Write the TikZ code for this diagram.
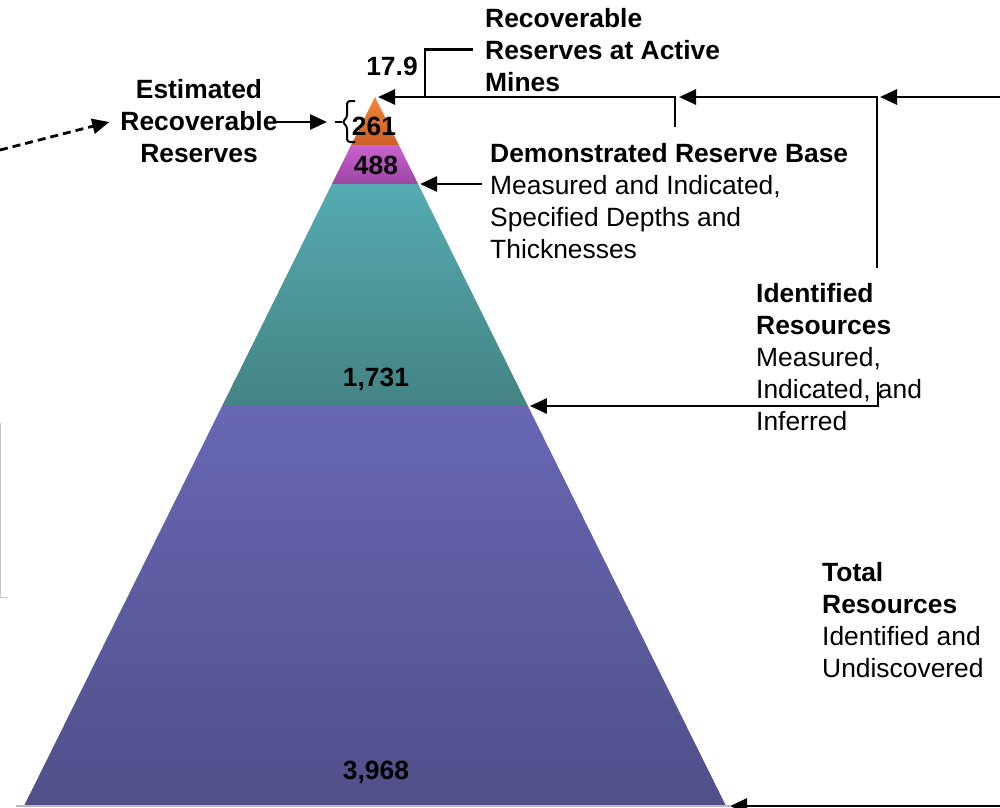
\documentclass[tikz,border=0pt]{standalone}
\usepackage{fontspec}
\setmainfont{Liberation Sans}
\usepackage{tikz}
\usetikzlibrary{arrows.meta, positioning, calc}
\usepackage{xcolor}

\definecolor{orangeTop}{HTML}{F28432}
\definecolor{orangeBot}{HTML}{CA5F28}
\definecolor{plumTop}{HTML}{CA62D0}
\definecolor{plumBot}{HTML}{9A46A4}
\definecolor{tealTop}{HTML}{55AAB2}
\definecolor{tealBot}{HTML}{448383}
\definecolor{blueTop}{HTML}{6867B4}
\definecolor{blueBot}{HTML}{504F89}

\begin{document}
\begin{tikzpicture}[
        x=1pt, y=-1pt,
        note/.style={font=\fontsize{26.4}{31.8}\selectfont, align=left, inner sep=0pt, anchor=base west},
        val/.style={font=\fontsize{26.4}{31.8}\selectfont\bfseries, inner sep=0pt, anchor=base},
        arrow/.style={-{Triangle[length=17pt, width=15pt]}, line width=2.8pt},
        link/.style={line width=2.6pt},
        dasharrow/.style={arrow, dash pattern=on 8pt off 5pt},
        bracestyle/.style={line width=2pt}
    ]
    \useasboundingbox (0,0) rectangle (1000,807);
    % pyramid
    \coordinate (apex) at (375,97);
    \shade[top color=orangeTop, bottom color=orangeBot] (apex) -- (398.8,145) -- (351.2,145) -- cycle;
    \shade[top color=plumTop, bottom color=plumBot] (351.2,145) -- (398.8,145) -- (418.1,184) -- (331.9,184) -- cycle;
    \shade[top color=tealTop, bottom color=tealBot] (331.9,184) -- (418.1,184) -- (527.9,406) -- (222.1,406) -- cycle;
    \shade[top color=blueTop, bottom color=blueBot] (222.1,406) -- (527.9,406) -- (726,806) -- (24,806) -- cycle;
    \draw[gray!55, line width=2pt] (16,806) -- (730,806);
    \draw[gray!45, line width=1pt] (0.5,423) -- (0.5,597) -- (8,597);
    % values
    \node[val] (v179) at (392,75) {17.9};
    \node[val] (v261) at (374,135) {261};
    \node[val] (v488) at (376,174) {488};
    \node[val] (v1731) at (376,386) {1,731};
    \node[val] (v3968) at (376,779) {3,968};
    % labels (base = last line)
    \node[note, font=\fontsize{26.4}{31.8}\selectfont\bfseries] (mines) at (485,91) {Recoverable\\Reserves at Active\\Mines};
    \node[note, font=\fontsize{26.4}{31.8}\selectfont\bfseries, align=center, anchor=base] (est) at (199,162) {Estimated\\Recoverable\\Reserves};
    \node[note] (drb) at (490,258) {\textbf{Demonstrated Reserve Base}\\Measured and Indicated,\\Specified Depths and\\Thicknesses};
    \node[note] (idres) at (756,430) {\textbf{Identified}\\\textbf{Resources}\\Measured,\\Indicated, and\\Inferred};
    \node[note] (totres) at (822,677) {\textbf{Total}\\\textbf{Resources}\\Identified and\\Undiscovered};
    % connector points
    \coordinate (jA) at (425,97);
    \coordinate (drbtop) at (675,127);
    \coordinate (drbS) at (482,184);
    \coordinate (drbE) at (418.1,184);
    \coordinate (idtop) at (877,268);
    \coordinate (idtick) at (878,382);
    \coordinate (idE) at (527.9,406);
    \coordinate (rightA) at (1000,97);
    \coordinate (rightB) at (1000,806);
    \coordinate (baseE) at (726,806);
    \coordinate (brc) at (335,122);
    \coordinate (dashS) at (0,150);
    % connectors
    \draw[link] ([xshift=-12pt]mines.west) -| (jA);
    \draw[arrow, shorten >=3pt] (drbtop) |- (apex);
    \draw[arrow, shorten >=4pt] (idtop) |- (drbtop |- apex);
    \draw[arrow, shorten >=3pt] (rightA) -- (idtop |- apex);
    \draw[arrow, shorten >=2pt] (drbS) -- (drbE);
    \draw[arrow, shorten >=2pt] (idtick) |- (idE);
    \draw[arrow, shorten >=4pt] (rightB) -- (baseE);
    \draw[arrow, shorten >=8pt] ([xshift=-4pt]est.east |- brc) -- (brc);
    \draw[dasharrow] (dashS) -- ([xshift=-11pt]est.west |- brc);
    % brace
    \draw[bracestyle, rounded corners=3pt] (355,101) -- (347,101) -- (347,118) -- (342,122) -- (347,126) -- (347,142) -- (355,142);
    \draw[bracestyle] (342,122) -- (brc);
\end{tikzpicture}
\end{document}
